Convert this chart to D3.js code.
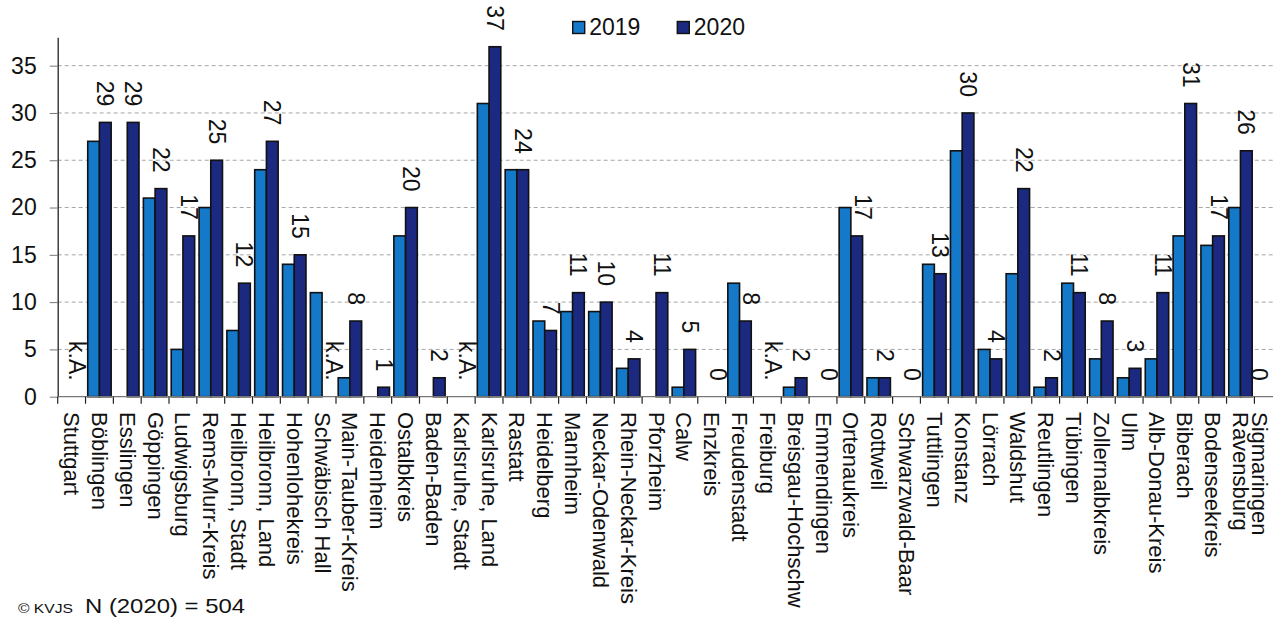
<!DOCTYPE html>
<html>
<head>
<meta charset="utf-8">
<script src="https://cdn.jsdelivr.net/npm/d3@7/dist/d3.min.js"></script>
<style>
  html, body { margin: 0; padding: 0; background: #fff; }
  svg { display: block; font-family: "Liberation Sans", Arial, sans-serif; }
</style>
</head>
<body>
<svg id="chart" width="1273" height="621"></svg>
<script>
const categories = ["Stuttgart","Böblingen","Esslingen","Göppingen","Ludwigsburg","Rems-Murr-Kreis",
  "Heilbronn, Stadt","Heilbronn, Land","Hohenlohekreis","Schwäbisch Hall","Main-Tauber-Kreis","Heidenheim",
  "Ostalbkreis","Baden-Baden","Karlsruhe, Stadt","Karlsruhe, Land","Rastatt","Heidelberg","Mannheim",
  "Neckar-Odenwald","Rhein-Neckar-Kreis","Pforzheim","Calw","Enzkreis","Freudenstadt","Freiburg",
  "Breisgau-Hochschw","Emmendingen","Ortenaukreis","Rottweil","Schwarzwald-Baar","Tuttlingen","Konstanz",
  "Lörrach","Waldshut","Reutlingen","Tübingen","Zollernalbkreis","Ulm","Alb-Donau-Kreis","Biberach",
  "Bodenseekreis","Ravensburg","Sigmaringen"];
const values2019 = [null,27,null,21,5,20,7,24,14,11,2,null,17,null,null,31,24,8,9,9,3,null,1,null,12,null,
  1,null,20,2,null,14,26,5,13,1,12,4,2,4,17,16,20,null];
const values2020 = [null,29,29,22,17,25,12,27,15,null,8,1,20,2,null,37,24,7,11,10,4,11,5,0,8,null,
  2,0,17,2,0,13,30,4,22,2,11,8,3,11,31,17,26,0];
const labels2020 = ["k.A.","29","29","22","17","25","12","27","15","k.A.","8","1","20","2","k.A.","37","24",
  "7","11","10","4","11","5","0","8","k.A.","2","0","17","2","0","13","30","4","22","2","11","8","3","11",
  "31","17","26","0"];
const seriesNames = ["2019","2020"];
const seriesColors = ["#1479c9","#1b2a80"];
const yTicks = [0,5,10,15,20,25,30,35];
const footnote = "N (2020) = 504";
const copyright = "© KVJS";

const svg = d3.select("#chart");
const W = 1273;
const left = 57.7, bandW = 27.83;
const x = d3.scaleBand().domain(categories).range([left, left + bandW * categories.length]).padding(0);
const xs = d3.scaleBand().domain(seriesNames).range([2.2, x.bandwidth() - 2.2]).padding(0);
const y = d3.scaleLinear().domain([0, 38]).range([396.7, 37.3]);
const LABEL_FS = 23, LABEL_GAP = 16;

// gridlines
svg.append("g").selectAll("line").data(yTicks.filter(d => d > 0)).join("line")
  .attr("x1", left).attr("x2", W)
  .attr("y1", d => y(d)).attr("y2", d => y(d))
  .attr("stroke", "#a6a6a6").attr("stroke-width", 1).attr("stroke-dasharray", "4,3");

// bars
const rows = categories.map((c, i) => ({c, v: [values2019[i], values2020[i]], lab: labels2020[i]}));
const g = svg.append("g");
rows.forEach(r => {
  seriesNames.forEach((s, si) => {
    const v = r.v[si];
    if (v == null || v === 0) return;
    g.append("rect")
      .attr("x", x(r.c) + xs(s))
      .attr("y", y(v))
      .attr("width", xs.bandwidth())
      .attr("height", y(0) - y(v))
      .attr("fill", seriesColors[si])
      .attr("stroke", "#111").attr("stroke-width", 1.6);
  });
});

// y axis
const yAxis = svg.append("g").attr("transform", `translate(${left},0)`)
  .call(d3.axisLeft(y).tickValues(yTicks).tickSize(8).tickSizeOuter(0).tickPadding(13));
yAxis.select(".domain").attr("stroke", "#222").attr("stroke-width", 1.3);
yAxis.selectAll(".tick line").attr("stroke", "#777");
yAxis.selectAll(".tick text").attr("font-size", 23).attr("fill", "#111")
  .attr("font-family", "Liberation Sans, Arial, sans-serif");

// x axis line
svg.append("line").attr("x1", left).attr("x2", W).attr("y1", y(0)).attr("y2", y(0))
  .attr("stroke", "#777").attr("stroke-width", 1.3);
// boundary ticks
svg.append("g").selectAll("line").data(categories).join("line")
  .attr("x1", d => x(d)).attr("x2", d => x(d))
  .attr("y1", y(0)).attr("y2", y(0) + 7)
  .attr("stroke", "#222").attr("stroke-width", 1.2);

// category labels
svg.append("g").selectAll("text").data(categories).join("text")
  .attr("transform", d => `translate(${Math.min(x(d) + x.bandwidth() / 2, W - 14)},412) rotate(90)`)
  .attr("text-anchor", "start").attr("dominant-baseline", "central")
  .attr("font-size", 22).attr("fill", "#111")
  .text(d => d);

// data labels (2020) — nudged right when the 2019 bar would collide with the label
svg.append("g").selectAll("text").data(rows).join("text")
  .attr("transform", r => {
    let cx = x(r.c) + xs("2020") + xs.bandwidth() / 2;
    const v = r.v[1] == null ? 0 : r.v[1];
    const labelBottom = y(v) - LABEL_GAP;
    if (r.v[0] != null && y(r.v[0]) < labelBottom) {
      const barRight = x(r.c) + xs("2019") + xs.bandwidth();
      cx = Math.max(cx, barRight + 3 + LABEL_FS * 0.38);
    }
    cx = Math.min(cx, W - 14);
    return `translate(${cx},${labelBottom}) rotate(90)`;
  })
  .attr("text-anchor", "end").attr("dominant-baseline", "central")
  .attr("font-size", LABEL_FS).attr("fill", "#111")
  .text(r => r.lab);

// legend
const leg = svg.append("g");
const legX = [572.7, 677.3];
seriesNames.forEach((s, i) => {
  leg.append("rect").attr("x", legX[i]).attr("y", 21.5).attr("width", 12).attr("height", 12)
    .attr("fill", seriesColors[i]).attr("stroke", "#111").attr("stroke-width", 1.4);
  leg.append("text").attr("x", legX[i] + 16.5).attr("y", 35).attr("font-size", 23).attr("fill", "#111")
    .text(s);
});

// footer
svg.append("text").attr("x", 18).attr("y", 613).attr("font-size", 12).attr("fill", "#111")
  .attr("textLength", 55).attr("lengthAdjust", "spacingAndGlyphs").text(copyright);
svg.append("text").attr("x", 85).attr("y", 613).attr("font-size", 21).attr("fill", "#111")
  .attr("textLength", 160).attr("lengthAdjust", "spacingAndGlyphs").text(footnote);
</script>
</body>
</html>
